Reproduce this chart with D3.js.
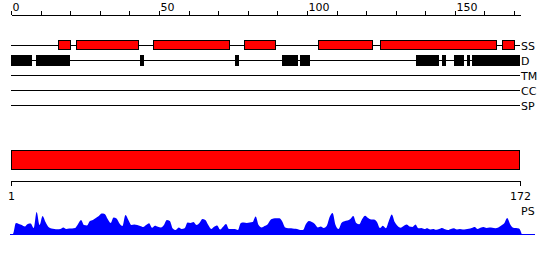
<!DOCTYPE html>
<html>
<head>
<meta charset="utf-8">
<script src="https://cdn.jsdelivr.net/npm/d3@7"></script>
<style>
  body { margin: 0; background: #fff; }
  svg text { font-family: "DejaVu Sans", sans-serif; font-size: 11px; }
</style>
</head>
<body>
<div id="chart"></div>
<script>
// sequence length and feature tracks
const seqLength = 172;
const trackNames = ["SS", "D", "TM", "CC", "SP"];

// secondary structure segments [start, end]
const ssSegments = [[16, 20], [22, 43], [48, 74], [79, 89.5], [104, 122], [125, 164], [166, 170]];
// disorder segments [start, end]
const disorderSegments = [[0, 7], [8.4, 20], [43.6, 45], [75.7, 77], [91.7, 97], [97.7, 101],
  [137, 144.7], [145.6, 147], [149.7, 153.2], [154, 155], [155.7, 172]];
// domain bar
const domainBars = [[1, 172]];
const bottomTicks = [1, 172];

// per-residue PS score (1..172)
const psValues = [
  4, 48, 44, 40, 34, 44, 46, 28, 92, 40, 76, 52, 32, 26, 24, 23, 24, 30, 24, 26,
  26, 28, 44, 60, 40, 38, 56, 60, 68, 76, 86, 84, 64, 48, 70, 66, 46, 36, 80, 60,
  40, 42, 40, 36, 32, 40, 47, 29, 37, 33, 30, 40, 60, 56, 26, 20, 30, 24, 27, 50,
  48, 52, 40, 48, 64, 60, 40, 24, 33, 38, 22, 33, 44, 24, 24, 24, 20, 48, 50, 48,
  50, 52, 74, 40, 30, 36, 42, 60, 66, 67, 67, 54, 30, 27, 27, 25, 24, 20, 20, 44,
  56, 52, 44, 30, 34, 28, 36, 72, 88, 40, 24, 48, 55, 58, 64, 76, 48, 43, 64, 77,
  68, 62, 62, 52, 28, 37, 27, 56, 82, 52, 36, 29, 36, 42, 34, 32, 42, 27, 28, 24,
  27, 22, 24, 21, 24, 28, 23, 20, 24, 27, 22, 24, 22, 23, 25, 28, 32, 24, 29, 32,
  28, 30, 29, 27, 30, 38, 47, 68, 43, 29, 28, 26
];

const width = 550, height = 260;
const svg = d3.select("#chart").append("svg")
  .attr("width", width).attr("height", height);

const x = d3.scaleLinear().domain([0, seqLength]).range([11, 520]);

// top ruler
svg.append("g")
  .attr("transform", "translate(0,14.5)")
  .call(d3.axisTop(x)
    .tickValues(d3.range(0, seqLength, 10))
    .tickSize(4).tickSizeOuter(0).tickPadding(0)
    .tickFormat(d => d % 50 === 0 ? d : ""))
  .call(g => g.selectAll("path,line").attr("stroke", "#000").attr("shape-rendering", "crispEdges"))
  .call(g => g.selectAll("text").attr("text-anchor", "start").attr("dx", 1)
    .attr("font-family", "DejaVu Sans").attr("font-size", 11).attr("fill", "#000"));

// feature tracks
const trackY = d3.scalePoint().domain(trackNames).range([45, 105]);

const tracks = svg.append("g").attr("shape-rendering", "crispEdges");
tracks.selectAll("line.track")
  .data(trackNames)
  .enter().append("line")
    .classed("track", true)
    .attr("x1", x.range()[0]).attr("x2", x.range()[1])
    .attr("y1", d => trackY(d) + 0.5).attr("y2", d => trackY(d) + 0.5)
    .attr("stroke", "#000");

tracks.selectAll("text.tname")
  .data(trackNames)
  .enter().append("text")
    .classed("tname", true)
    .attr("x", x.range()[1] + 1)
    .attr("y", d => trackY(d) + 4.5)
    .text(d => d);

tracks.selectAll("rect.ss")
  .data(ssSegments)
  .enter().append("rect")
    .classed("ss", true)
    .attr("x", d => x(d[0]))
    .attr("width", d => x(d[1]) - x(d[0]))
    .attr("y", trackY("SS") - 4.5).attr("height", 9)
    .attr("fill", "#ff0000").attr("stroke", "#000");

tracks.selectAll("rect.dis")
  .data(disorderSegments)
  .enter().append("rect")
    .classed("dis", true)
    .attr("x", d => x(d[0]))
    .attr("width", d => x(d[1]) - x(d[0]))
    .attr("y", trackY("D") - 5).attr("height", 11)
    .attr("fill", "#000");

// domain bar + bottom ruler
const xb = d3.scaleLinear().domain([1, seqLength]).range([11, 520]);
svg.append("g").attr("shape-rendering", "crispEdges")
  .selectAll("rect")
  .data(domainBars)
  .enter().append("rect")
    .attr("x", d => xb(d[0]) + 0.5)
    .attr("width", d => xb(d[1]) - xb(d[0]) - 1)
    .attr("y", 150.5).attr("height", 19)
    .attr("fill", "#ff0000").attr("stroke", "#000");

svg.append("g")
  .attr("transform", "translate(0,180.5)")
  .call(d3.axisBottom(xb).tickValues(bottomTicks)
    .tickSize(5).tickSizeOuter(0).tickPadding(7))
  .call(g => g.selectAll("path,line").attr("stroke", "#000").attr("shape-rendering", "crispEdges"))
  .call(g => g.selectAll("text").attr("font-family", "DejaVu Sans").attr("font-size", 11).attr("fill", "#000"));

// PS profile
const psX = d3.scaleLinear().domain([0, seqLength + 1]).range([10, 522]);
const psY = d3.scaleLinear().domain([0, 100]).range([235, 210]);
const psPoints = [[0, 0]].concat(psValues.map((v, i) => [i + 1, v]), [[seqLength + 1, 0]]);

const area = d3.area()
  .x(d => psX(d[0]))
  .y0(psY(0))
  .y1(d => psY(d[1]))
  .curve(d3.curveMonotoneX);

svg.append("line")
  .attr("x1", psX.range()[0]).attr("x2", 535)
  .attr("y1", psY(0) - 0.5).attr("y2", psY(0) - 0.5)
  .attr("stroke", "#0000ff");

svg.append("path")
  .datum(psPoints)
  .attr("d", area)
  .attr("fill", "#0000ff");

svg.append("text")
  .attr("x", 521).attr("y", 215)
  .text("PS");
</script>
</body>
</html>
